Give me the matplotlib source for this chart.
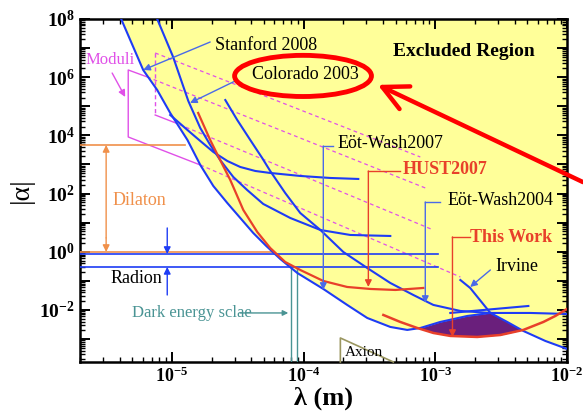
import numpy as np
import matplotlib
matplotlib.use('Agg')
import matplotlib.pyplot as plt
from matplotlib.patches import Ellipse
from matplotlib.ticker import LogLocator, FuncFormatter, NullFormatter

plt.rcParams['font.family'] = ['Liberation Serif', 'DejaVu Serif']
plt.rcParams['mathtext.fontset'] = 'custom'
plt.rcParams['mathtext.rm'] = 'Liberation Serif'
plt.rcParams['mathtext.it'] = 'Liberation Serif:italic'
plt.rcParams['mathtext.bf'] = 'Liberation Serif:bold'

# ---------------- data (lambda in m, |alpha|) ----------------
lam_A = [4.11e-6, 6.04e-6, 7.72e-6, 9.69e-6, 1.31e-5, 1.64e-5, 2.06e-5, 2.63e-5,
         3.30e-5, 4.14e-5, 5.20e-5, 6.64e-5, 8.94e-5, 1.41e-4, 2.14e-4, 3.04e-4,
         4.55e-4, 6.12e-4, 7.69e-4, 1.09e-3, 1.75e-3, 2.62e-3]
alpha_A = [1e8, 1.77e6, 3.63e5, 5.89e4, 6.95e3, 9.61e2, 1.82e2, 47.5,
           14.5, 4.43, 1.58, 0.566, 0.187, 0.0527, 0.0149, 0.00531,
           0.00261, 0.00206, 0.00240, 0.00387, 0.00622, 0.00789]

lam_irv = [1.55e-3, 1.84e-3, 2.62e-3, 3.52e-3, 4.66e-3, 6.85e-3, 1.0e-2]
alpha_irv = [0.107, 0.0570, 0.00789, 0.00387, 0.00190, 8.61e-4, 4.6e-4]

lam_C = [9.69e-6, 1.31e-5, 1.64e-5, 2.06e-5, 2.63e-5, 3.30e-5, 4.29e-5, 5.57e-5,
         9.42e-5, 1.59e-4, 2.60e-4]
alpha_C = [5.02e4, 1.53e4, 6.42e3, 2.69e3, 1.32e3, 8.20e2, 5.98e2, 5.11e2,
           4.03e2, 3.44e2, 3.18e2]

lam_D = [7.72e-6, 1.02e-5, 1.33e-5, 1.64e-5, 1.95e-5, 2.32e-5, 2.92e-5, 3.72e-5,
         4.93e-5, 7.91e-5, 1.34e-4, 2.26e-4, 4.55e-4]
alpha_D = [1e8, 4.94e6, 1.52e5, 1.79e4, 4.68e3, 1.43e3, 3.72e2, 1.33e2,
           44.0, 14.5, 5.61, 3.78, 3.49]

lam_F = [2.54e-5, 3.13e-5, 3.93e-5, 4.84e-5, 5.57e-5, 7.24e-5, 9.42e-5, 1.34e-4,
         2.00e-4, 3.04e-4, 4.55e-4, 6.81e-4, 9.66e-4, 1.55e-3, 2.62e-3, 5.27e-3, 1.0e-2]
alpha_F = [1.64e5, 3.38e4, 6.95e3, 1.67e3, 5.98e2, 1.05e2, 21.5, 5.61,
           0.985, 0.277, 0.0847, 0.0327, 0.0149, 0.00924, 0.00789, 0.00789, 0.00729]

lam_G = [1.30e-3, 5.09e-3]
alpha_G = [0.00789, 0.0137]

lam_hust = [1.58e-5, 1.95e-5, 2.32e-5, 2.77e-5, 3.48e-5, 4.44e-5, 5.57e-5, 7.24e-5,
            9.42e-5, 1.41e-4, 2.14e-4, 3.21e-4, 4.97e-4, 8.11e-4]
alpha_hust = [5.89e4, 6.95e3, 1.43e3, 2.93e2, 27.3, 4.79, 1.35, 0.446,
              0.237, 0.0993, 0.0617, 0.0527, 0.0487, 0.0570]

lam_tw = [4.03e-4, 5.42e-4, 7.30e-4, 9.66e-4, 1.30e-3, 2.08e-3, 3.12e-3, 4.66e-3,
          6.62e-3, 8.16e-3, 1.0e-2]
alpha_tw = [0.00673, 0.00387, 0.00240, 0.00162, 0.00128, 0.00118, 0.00138, 0.00206,
            0.00387, 0.00622, 0.0108]

# moduli (magenta)
mod_solid_lam = [6.48e-6, 4.65e-6, 4.65e-6, 1.64e-5]
mod_solid_alpha = [1.02e6, 1.77e6, 8.81e3, 9.61e2]
mod_vert_lam = [7.45e-6, 7.45e-6]
mod_vert_alpha = [6.79e6, 5.02e4]
mod_small_lam = [7.45e-6, 1.02e-5]
mod_small_alpha = [5.02e4, 2.89e4]
dash_lam = [(7.45e-6, 7.69e-4), (6.48e-6, 8.39e-4), (1.02e-5, 9.66e-4), (1.64e-5, 1.55e-3)]
dash_alpha = [(6.79e6, 1.81e3), (1.02e6, 1.56e2), (2.89e4, 5.61), (9.61e2, 0.136)]

# dilaton / radion / dark energy / axion
dil_hi, dil_lo = 4.68e3, 0.985
dil_hi_end, dil_lo_end = 1.26e-5, 5.77e-5
dil_arrow_lam = 3.16e-6
rad_hi, rad_lo = 0.84, 0.301
rad_end = 1.04e-3
rad_arrow_lam = 9.2e-6
dark_lam = [8.05e-5, 8.94e-5]
axion_lam = [1.90e-4, 1.90e-4, 4.80e-4]
axion_alpha = [1.63e-4, 1.09e-3, 1.63e-4]

xmin, xmax = 2.0e-6, 1.0e-2
ymin, ymax = 1.63e-4, 1.0e8

BLUE = '#1e3cf5'
LBLUE = '#4a6ae8'
RED = '#e8402a'
MAG = '#e050e8'
ORANGE = '#f0904a'
TEAL = '#4a9494'
YEL = '#ffff99'
PURP = '#6a1f7c'

fig = plt.figure(figsize=(5.83, 4.12), dpi=100)
ax = fig.add_axes([0.1372, 0.1214, 0.8353, 0.8325])
ax.set_xscale('log')
ax.set_yscale('log')
ax.set_xlim(xmin, xmax)
ax.set_ylim(ymin, ymax)

# yellow excluded region
env_lam = np.array(lam_A + lam_irv[3:])
env_alpha = np.array(alpha_A + alpha_irv[3:])
ax.fill_between(env_lam, env_alpha, 1e10, color=YEL, lw=0, zorder=0)

# purple region between envelope and this work
grid = np.logspace(np.log10(6.0e-4), np.log10(5.0e-3), 300)
top = 10 ** np.interp(np.log10(grid), np.log10(env_lam), np.log10(env_alpha))
bot = 10 ** np.interp(np.log10(grid), np.log10(lam_tw), np.log10(alpha_tw))
ax.fill_between(grid, bot, top, where=top > bot, interpolate=True, color=PURP, lw=0, zorder=1)

# magenta moduli
ax.plot(mod_solid_lam, mod_solid_alpha, color=MAG, lw=1.0, zorder=2)
ax.plot(mod_vert_lam, mod_vert_alpha, color=MAG, lw=1.0, ls=(0, (3, 2)), zorder=2)
ax.plot(mod_small_lam, mod_small_alpha, color=MAG, lw=1.0, zorder=2)
for lx, la in zip(dash_lam, dash_alpha):
    ax.plot(lx, la, color=MAG, lw=0.9, ls=(0, (3, 2.5)), zorder=2)

# blue curves
for lx, la in [(lam_A, alpha_A), (lam_irv, alpha_irv), (lam_C, alpha_C),
               (lam_D, alpha_D), (lam_F, alpha_F), (lam_G, alpha_G)]:
    ax.plot(lx, la, color=BLUE, lw=1.5, zorder=4)

# red curves
ax.plot(lam_hust, alpha_hust, color=RED, lw=1.6, zorder=4)
ax.plot(lam_tw, alpha_tw, color=RED, lw=1.8, zorder=4)

# dilaton
ax.plot([xmin, dil_hi_end], [dil_hi, dil_hi], color=ORANGE, lw=1.2, zorder=3)
ax.plot([xmin, dil_lo_end], [dil_lo, dil_lo], color=ORANGE, lw=1.2, zorder=3)
ax.annotate('', xy=(dil_arrow_lam, dil_hi), xytext=(dil_arrow_lam, 3.0),
            arrowprops=dict(arrowstyle='-|>', color=ORANGE, lw=1.0, shrinkA=0, shrinkB=0,
                            mutation_scale=10))
ax.annotate('', xy=(dil_arrow_lam, dil_lo), xytext=(dil_arrow_lam, 3.0),
            arrowprops=dict(arrowstyle='-|>', color=ORANGE, lw=1.0, shrinkA=0, shrinkB=0,
                            mutation_scale=10))

# radion
ax.plot([xmin, rad_end], [rad_hi, rad_hi], color=BLUE, lw=1.2, zorder=3)
ax.plot([xmin, rad_end], [rad_lo, rad_lo], color=BLUE, lw=1.2, zorder=3)
ax.annotate('', xy=(rad_arrow_lam, rad_hi), xytext=(rad_arrow_lam, 6.58),
            arrowprops=dict(arrowstyle='-|>', color=BLUE, lw=1.0, shrinkA=0, shrinkB=0,
                            mutation_scale=10))
ax.annotate('', xy=(rad_arrow_lam, rad_lo), xytext=(rad_arrow_lam, 0.0327),
            arrowprops=dict(arrowstyle='-|>', color=BLUE, lw=1.0, shrinkA=0, shrinkB=0,
                            mutation_scale=10))

# dark energy
for dl in dark_lam:
    ax.plot([dl, dl], [rad_lo, ymin], color=TEAL, lw=1.0, zorder=3)
ax.annotate('', xy=(7.64e-5, 0.00789), xytext=(3.3e-5, 0.00789),
            arrowprops=dict(arrowstyle='-|>', color=TEAL, lw=1.0, shrinkA=0, shrinkB=0,
                            mutation_scale=8))

# axion
ax.plot(axion_lam, axion_alpha, color='#9a9660', lw=1.2, zorder=3, clip_on=False)

# label connectors
def elbow(xt, yh, xv, ytip, color):
    ax.plot([xt, xv], [yh, yh], color=color, lw=1.0, zorder=5)
    ax.annotate('', xy=(xv, ytip), xytext=(xv, yh),
                arrowprops=dict(arrowstyle='-|>', color=color, lw=1.0, shrinkA=0, shrinkB=0,
                                mutation_scale=10), zorder=5)

elbow(1.68e-4, 4.32e3, 1.41e-4, 0.0487, LBLUE)
elbow(5.42e-4, 5.98e2, 3.10e-4, 0.0617, RED)
elbow(1.09e-3, 51.4, 8.39e-4, 0.0174, LBLUE)
elbow(1.84e-3, 3.23, 1.35e-3, 0.00118, RED)

def arrow(tail, tip, color):
    ax.annotate('', xy=tip, xytext=tail,
                arrowprops=dict(arrowstyle='-|>', color=color, lw=1.0, shrinkA=0, shrinkB=0,
                                mutation_scale=10), zorder=5)

arrow((1.95e-5, 1.62e7), (6.04e-6, 1.77e6), LBLUE)
arrow((3.13e-5, 8.02e5), (1.37e-5, 1.30e5), LBLUE)
arrow((2.62e-3, 0.237), (1.84e-3, 0.0617), LBLUE)
arrow((3.51e-6, 1.39e6), (4.41e-6, 2.09e5), MAG)

# texts
T = ax.transAxes
ax.text(0.277, 0.924, 'Stanford 2008', transform=T, fontsize=13, va='center', ha='left')
ax.text(0.353, 0.837, 'Colorado 2003', transform=T, fontsize=13, va='center', ha='left')
ax.text(0.643, 0.904, 'Excluded Region', transform=T, fontsize=14, va='center', ha='left',
        fontweight='bold')
ax.text(0.012, 0.880, 'Moduli', transform=T, fontsize=12, va='center', ha='left', color=MAG)
ax.text(0.528, 0.638, 'Eöt-Wash2007', transform=T, fontsize=13, va='center', ha='left')
ax.text(0.663, 0.560, 'HUST2007', transform=T, fontsize=13, va='center', ha='left',
        color=RED, fontweight='bold')
ax.text(0.754, 0.472, 'Eöt-Wash2004', transform=T, fontsize=13, va='center', ha='left')
ax.text(0.801, 0.364, 'This Work', transform=T, fontsize=13, va='center', ha='left',
        color=RED, fontweight='bold')
ax.text(0.852, 0.277, 'Irvine', transform=T, fontsize=13, va='center', ha='left')
ax.text(0.066, 0.472, 'Dilaton', transform=T, fontsize=13, va='center', ha='left', color=ORANGE)
ax.text(0.062, 0.242, 'Radion', transform=T, fontsize=13, va='center', ha='left')
ax.text(0.107, 0.143, 'Dark energy sclae', transform=T, fontsize=12, va='center', ha='left',
        color=TEAL)
ax.text(0.544, 0.029, 'Axion', transform=T, fontsize=11, va='center', ha='left')

# red ellipse and arrow
ax.add_patch(Ellipse((0.458, 0.834), 0.281, 0.120, transform=T, fill=False,
                     edgecolor='#ff0000', lw=3.5, zorder=6))
ax.annotate('', xy=(0.648, 0.794), xycoords='figure fraction',
            xytext=(1.0, 0.558), textcoords='figure fraction',
            arrowprops=dict(arrowstyle='->,head_length=0.9,head_width=0.45', color='#ff0000',
                            lw=3.2, shrinkA=0, shrinkB=0, mutation_scale=20),
            annotation_clip=False, zorder=7)

# axes styling
ax.set_xlabel('λ (m)', fontsize=19, fontweight='bold', labelpad=0)
ax.set_ylabel('|α|', fontsize=20, labelpad=4)

ax.xaxis.set_major_locator(LogLocator(base=10, numticks=20))
ax.xaxis.set_minor_locator(LogLocator(base=10, subs=np.arange(2, 10), numticks=20))
ax.yaxis.set_major_locator(LogLocator(base=10, numticks=30))
ax.yaxis.set_minor_locator(LogLocator(base=10, subs=np.arange(2, 10), numticks=30))

def xfmt(v, pos):
    e = int(round(np.log10(v)))
    return r'$\mathbf{10^{%d}}$' % e

def yfmt(v, pos):
    e = int(round(np.log10(v)))
    if e % 2:
        return ''
    return r'$\mathbf{10^{%d}}$' % e

ax.xaxis.set_major_formatter(FuncFormatter(xfmt))
ax.yaxis.set_major_formatter(FuncFormatter(yfmt))
ax.xaxis.set_minor_formatter(NullFormatter())
ax.yaxis.set_minor_formatter(NullFormatter())
ax.tick_params(which='both', direction='in', top=True, right=True, labelsize=14)
ax.tick_params(axis='x', labelsize=13)
ax.tick_params(which='major', length=7, width=1.4)
ax.tick_params(which='minor', length=3.5, width=1.0)
for s in ax.spines.values():
    s.set_linewidth(1.8)

fig.savefig('out.png', dpi=100)
